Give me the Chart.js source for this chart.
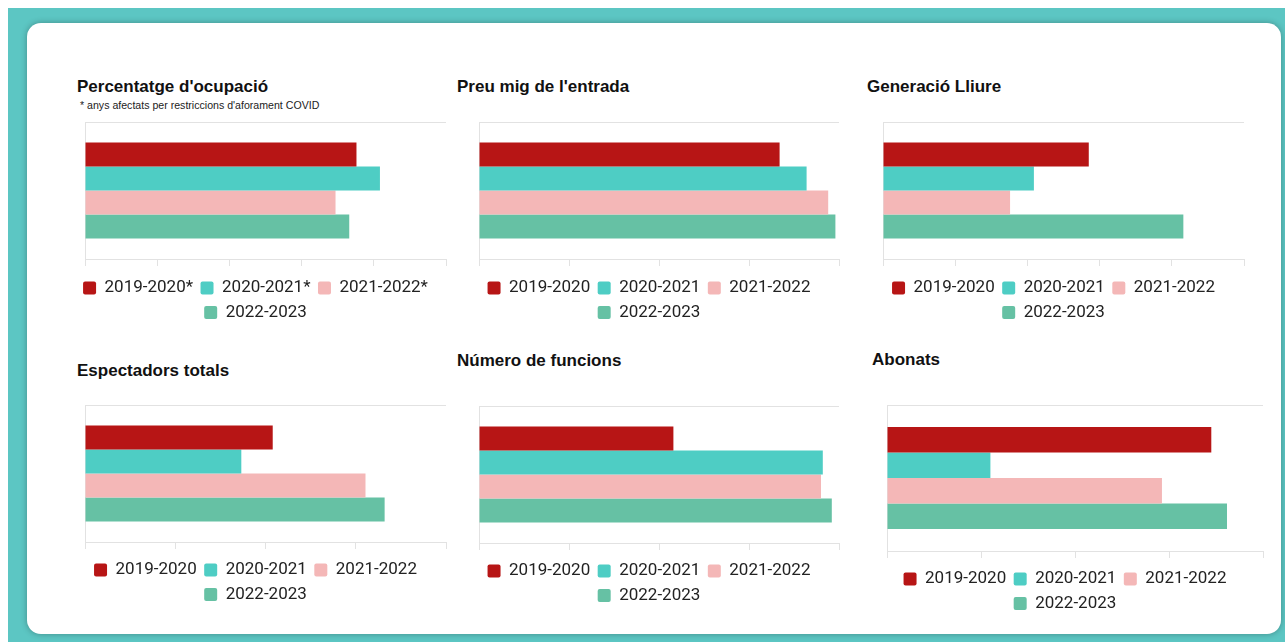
<!DOCTYPE html>
<html>
<head>
<meta charset="utf-8">
<script src="https://cdn.jsdelivr.net/npm/chart.js@4.4.0/dist/chart.umd.min.js"></script>
<style>
  html, body { margin: 0; padding: 0; background: #fff; }
  body { width: 1285px; height: 642px; position: relative; overflow: hidden; }
  .frame { position: absolute; left: 8px; top: 8px; right: 0; bottom: 0; background: #5cc6c3; }
  .card {
    position: absolute; left: 27px; top: 23px; width: 1254px; height: 611px;
    background: #fff; border-radius: 14px; box-shadow: 0 0 6px rgba(0, 0, 0, 0.3);
  }
  .title {
    position: absolute; font-family: "Liberation Sans", Arial, sans-serif;
    font-weight: bold; font-size: 17px; line-height: 17px; color: #111; white-space: nowrap;
  }
  .note {
    position: absolute; font-family: "Liberation Sans", Arial, sans-serif;
    font-size: 10.6px; line-height: 10px; color: #222; white-space: nowrap;
  }
  canvas { position: absolute; }
</style>
</head>
<body>
<div class="frame"></div>
<div class="card"></div>

<div class="title" style="left:77px; top:78px;">Percentatge d'ocupació</div>
<div class="note" style="left:80px; top:100px;">* anys afectats per restriccions d'aforament COVID</div>
<div class="title" style="left:457px; top:78px;">Preu mig de l'entrada</div>
<div class="title" style="left:867px; top:78px;">Generació Lliure</div>
<div class="title" style="left:77px; top:362px;">Espectadors totals</div>
<div class="title" style="left:457px; top:352px;">Número de funcions</div>
<div class="title" style="left:872px; top:351px;">Abonats</div>

<canvas id="chartOcupacio"></canvas>
<canvas id="chartPreu"></canvas>
<canvas id="chartGeneracio"></canvas>
<canvas id="chartEspectadors"></canvas>
<canvas id="chartFuncions"></canvas>
<canvas id="chartAbonats"></canvas>

<script>
// seasons and the values
const seasons = ["2019-2020", "2020-2021", "2021-2022", "2022-2023"];
const seasonsCovid = ["2019-2020*", "2020-2021*", "2021-2022*", "2022-2023"];

const ocupacio = [75.2, 81.7, 69.4, 73.2];
const preuMig = [16.7, 18.2, 19.4, 19.8];
const generacioLliure = [285, 209, 176, 416];
const espectadors = [104000, 86600, 155400, 166000];
const funcions = [216, 382, 380, 392];
const abonats = [3450, 1100, 2925, 3617];

// axis ranges (no labels are shown, only the tick marks)
const axisMax = [100, 20, 500, 200000, 400, 4000];
const axisStep = [20, 5, 100, 50000, 100, 1000];

const colors = ["#b71515", "#4ecdc4", "#f4b7b7", "#66c1a4"];

// plot box of each panel on the page: left, top, right, bottom, space under axis
const panels = [
  { id: "chartOcupacio", plot: [85, 122, 446, 259, 13] },
  { id: "chartPreu", plot: [479, 122, 839, 259, 13] },
  { id: "chartGeneracio", plot: [883, 122, 1244, 259, 13] },
  { id: "chartEspectadors", plot: [85, 405, 446, 542, 12] },
  { id: "chartFuncions", plot: [479, 406, 839, 543, 12] },
  { id: "chartAbonats", plot: [887, 405, 1263, 551, 12] },
];

const YAXIS_W = 20;
const PAD_TOP = 4;
const PAD_RIGHT = 2;
const LEGEND_FONT = 17;
const LEGEND_PAD = 7.5;
const LEGEND_H = 2 * (LEGEND_FONT + LEGEND_PAD) + 10;

function makeChart(index, labels, values) {
  const panel = panels[index];
  const [left, top, right, bottom, axisH] = panel.plot;
  const canvas = document.getElementById(panel.id);
  const x0 = left - YAXIS_W;
  const y0 = top - PAD_TOP;
  canvas.width = right - x0 + PAD_RIGHT;
  canvas.height = bottom - y0 + axisH + LEGEND_H;
  canvas.style.left = x0 + "px";
  canvas.style.top = y0 + "px";

  const datasets = labels.map((label, i) => ({
    label: label,
    data: [values[i]],
    backgroundColor: colors[i],
    borderWidth: 0,
  }));

  return new Chart(canvas.getContext("2d"), {
    type: "bar",
    data: {
      labels: [""],
      datasets: datasets,
    },
    options: {
      indexAxis: "y",
      responsive: false,
      animation: false,
      events: [],
      layout: {
        padding: { top: PAD_TOP, right: PAD_RIGHT, left: 0, bottom: 0 },
      },
      datasets: {
        bar: { categoryPercentage: 0.7, barPercentage: 1.0 },
      },
      plugins: {
        title: { display: false },
        tooltip: { enabled: false },
        legend: {
          display: true,
          position: "bottom",
          labels: {
            font: { family: "Roboto", size: LEGEND_FONT },
            color: "#222",
            boxWidth: 13,
            boxHeight: 13,
            useBorderRadius: true,
            borderRadius: 2,
            padding: LEGEND_PAD,
          },
        },
      },
      scales: {
        x: {
          min: 0,
          max: axisMax[index],
          ticks: { display: false, stepSize: axisStep[index] },
          grid: { color: "#e2e2e2", tickLength: 7, drawTicks: true, drawOnChartArea: false },
          border: { color: "#e2e2e2" },
          afterFit: function (scale) {
            scale.height = axisH;
          },
        },
        y: {
          ticks: { display: false },
          grid: { color: "#e2e2e2", drawTicks: false },
          border: { color: "#e2e2e2" },
          afterFit: function (scale) {
            scale.width = YAXIS_W;
          },
        },
      },
    },
  });
}

makeChart(0, seasonsCovid, ocupacio);
makeChart(1, seasons, preuMig);
makeChart(2, seasons, generacioLliure);
makeChart(3, seasons, espectadors);
makeChart(4, seasons, funcions);
makeChart(5, seasons, abonats);
</script>
</body>
</html>
